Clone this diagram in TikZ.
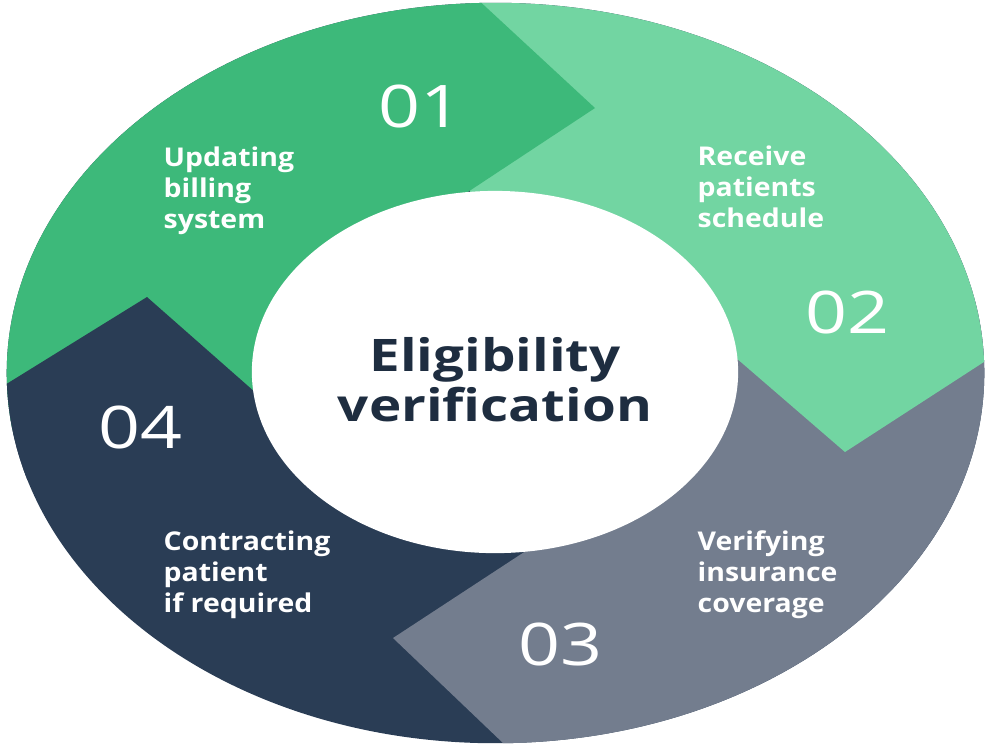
\documentclass[tikz,border=0pt]{standalone}
\usepackage{fontspec}
\newfontfamily\titlefont[FakeStretch=1.22]{Open Sans}
\newfontfamily\bodyfont[FakeStretch=1.1]{Open Sans}
\newfontfamily\numfont[FakeStretch=1.25]{Open Sans}
\definecolor{gone}{RGB}{61,185,122}
\definecolor{gtwo}{RGB}{114,213,162}
\definecolor{gthree}{RGB}{115,125,142}
\definecolor{gfour}{RGB}{42,61,85}
\definecolor{titlecol}{RGB}{30,45,64}
\tikzset{
  bodytext/.style={text=white, align=left, inner sep=0pt, anchor=base west,
    font=\bodyfont\bfseries\fontsize{7.35}{8.8}\selectfont},
  numtext/.style={text=white, inner sep=0pt, anchor=base west,
    font=\numfont\fontsize{16.7}{20}\selectfont},
  titletext/.style={text=titlecol, align=center, inner sep=0pt, anchor=base,
    font=\titlefont\bfseries\fontsize{12.75}{14.2}\selectfont}
}
\begin{document}
\begin{tikzpicture}[x=0.01cm,y=-0.01cm]
\useasboundingbox (0,0) rectangle (1000,750);
\fill[white] (0,0) rectangle (1000,750);
\begin{scope}
  \clip (495.5,373) ellipse [x radius=4.885cm, y radius=3.70cm];
  % base: segment 04
  \fill[gfour] (-50,-50) rectangle (1050,800);
  % segment 03
  \fill[gthree] (393,638) -- (525,764) -- (1050,764) -- (1050,300) -- (700,300) -- (596,505) -- cycle;
  % segment 02
  \fill[gtwo] (845,452) -- (1024,336) -- (1024,-20) -- (470,-20) -- (470,250) -- (669,300) -- cycle;
  % segment 01
  \fill[gone] (595,108) -- (392,242) -- (300,330) -- (250,430) -- (-30,430) -- (-30,-30) -- (447,-29) -- cycle;
  % tip of segment 04
  \fill[gfour] (147,297) -- (306,437) -- (306,480) -- (-34,480) -- (-34,409) -- cycle;
\end{scope}
\fill[white] (495,372) ellipse [x radius=2.43cm, y radius=1.81cm];
\node[titletext] (title) at (495,421) {Eligibility\\verification};
\node[numtext] (n1) at (378,127) {01};
\node[numtext] (n2) at (805,333) {02};
\node[numtext] (n3) at (518,665) {03};
\node[numtext] (n4) at (98,448) {04};
\node[bodytext] (t1) at (163,228) {Updating\\billing\\system};
\node[bodytext] (t2) at (697,227) {Receive\\patients\\schedule};
\node[bodytext] (t3) at (697,612) {Verifying\\insurance\\coverage};
\node[bodytext] (t4) at (163,612) {Contracting\\patient\\if required};
\end{tikzpicture}
\end{document}
